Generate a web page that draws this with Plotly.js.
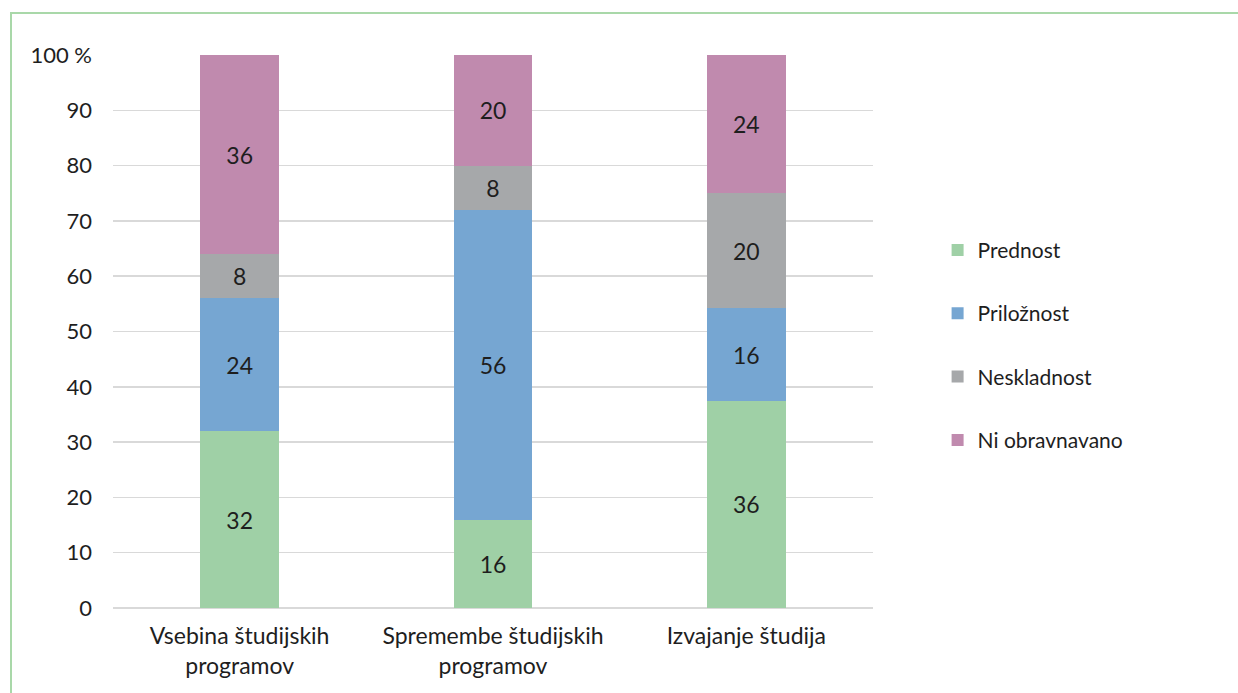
<!DOCTYPE html>
<html>
<head>
<meta charset="utf-8">
<script src="https://cdn.plot.ly/plotly-3.0.1.min.js"></script>
<style>
  html, body { margin: 0; padding: 0; background: #fff; overflow: hidden; }
  #chart { width: 1238px; height: 693px; }
  #frame { position: absolute; left: 10px; top: 12px; width: 1300px; height: 800px;
           border-top: 2px solid #a9d8a9; border-left: 2px solid #a9d8a9; pointer-events: none; }
</style>
</head>
<body>
<div id="chart"></div>
<div id="frame"></div>
<script>
const categories = ['Vsebina študijskih<br>programov', 'Spremembe študijskih<br>programov', 'Izvajanje študija'];
const seriesNames = ['Prednost', 'Priložnost', 'Neskladnost', 'Ni obravnavano'];
const prednost = [32, 16, 36];
const priloznost = [24, 56, 16];
const neskladnost = [8, 8, 20];
const niObravnavano = [36, 20, 24];
const colors = ['#9fd0a6', '#76a6d2', '#a6a8aa', '#c08aae'];
const yTickVals = [0, 10, 20, 30, 40, 50, 60, 70, 80, 90, 100];
const yTickText = ['0', '10', '20', '30', '40', '50', '60', '70', '80', '90', '100 %'];

const seriesValues = [prednost, priloznost, neskladnost, niObravnavano];
const traces = seriesValues.map((vals, i) => ({
  type: 'bar',
  name: seriesNames[i],
  x: categories,
  y: vals,
  text: vals.map(String),
  texttemplate: '%{text}',
  textposition: 'inside',
  insidetextanchor: 'middle',
  textangle: 0,
  constraintext: 'none',
  textfont: { family: 'Lato, sans-serif', size: 23, color: '#1e1e1e' },
  marker: { color: colors[i], line: { width: 0 } },
  legendgroup: 'g' + i,
  hoverinfo: 'skip'
}));

const layout = {
  width: 1238, height: 693,
  margin: { l: 113, r: 364.5, t: 55, b: 85 },
  barmode: 'stack',
  barnorm: 'percent',
  bargap: 0.69,
  paper_bgcolor: '#fff',
  plot_bgcolor: '#fff',
  font: { family: 'Lato, sans-serif', color: '#1e1e1e' },
  showlegend: true,
  legend: {
    x: 1.085, xanchor: 'left', y: 0.475, yanchor: 'middle',
    traceorder: 'grouped', tracegroupgap: 33,
    font: { family: 'Lato, sans-serif', size: 21, color: '#1e1e1e' },
    itemwidth: 30
  },
  xaxis: {
    tickfont: { family: 'Lato, sans-serif', size: 23, color: '#1e1e1e' },
    showgrid: false, zeroline: false, showline: false, ticks: '',
    ticklabelstandoff: 12,
    fixedrange: true
  },
  yaxis: {
    range: [0, 100],
    tickvals: yTickVals, ticktext: yTickText,
    tickfont: { family: 'Lato, sans-serif', size: 22, color: '#1e1e1e' },
    showgrid: true, gridcolor: '#d9d9d9', gridwidth: 1.5,
    zeroline: true, zerolinecolor: '#d9d9d9', zerolinewidth: 1.5,
    showline: false, ticks: '', ticklabelstandoff: 20,
    fixedrange: true
  }
};

Plotly.newPlot('chart', traces, layout, { displayModeBar: false, staticPlot: true });
</script>
</body>
</html>
